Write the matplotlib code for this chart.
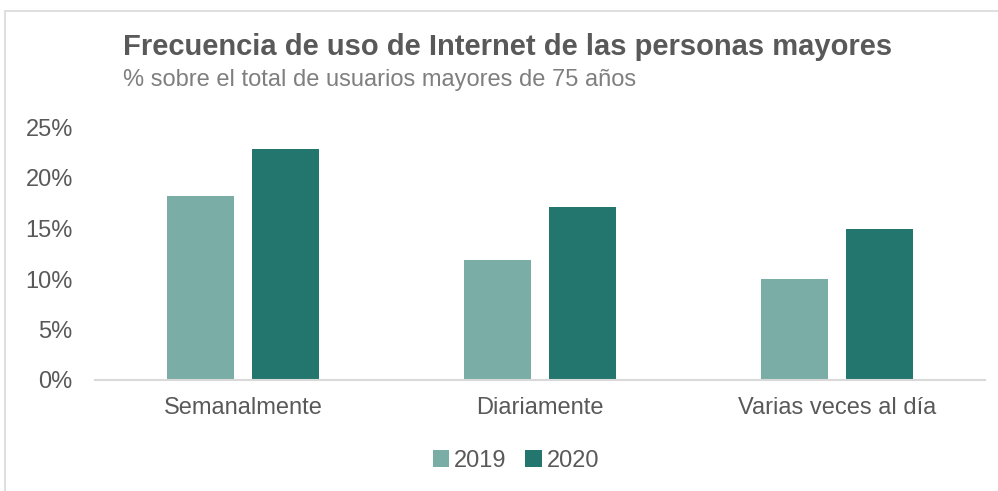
import matplotlib
matplotlib.use("Agg")
import matplotlib.pyplot as plt
import numpy as np
from matplotlib.patches import Rectangle

# === Data ===
categories = ["Semanalmente", "Diariamente", "Varias veces al día"]
years = ["2019", "2020"]
values_2019 = [18.2, 11.9, 10.0]
values_2020 = [22.9, 17.1, 15.0]
yticks = [0, 5, 10, 15, 20, 25]

color_2019 = "#7AADA6"
color_2020 = "#22766D"
text_color = "#595959"

plt.rcParams["font.family"] = ["Liberation Sans", "DejaVu Sans"]

fig = plt.figure(figsize=(9.98, 4.91), dpi=100)

# chart border
fig.patches.append(Rectangle((5 / 998, -0.1), 1.1, 1 - 11 / 491 + 0.1,
                             transform=fig.transFigure, fill=False,
                             edgecolor="#D9D9D9", linewidth=1.2))

ax = fig.add_axes([95 / 998, 1 - 380 / 491, (985 - 95) / 998, (380 - 127.5) / 491])

x = np.arange(len(categories))
w = 0.226
off = 0.143
ax.bar(x - off, values_2019, w, color=color_2019, label=years[0])
ax.bar(x + off, values_2020, w, color=color_2020, label=years[1])

ax.set_xlim(-0.5, len(categories) - 0.5)
ax.set_ylim(0, 25)
ax.set_yticks(yticks)
ax.set_yticklabels([f"{v}%" for v in yticks], fontsize=17, color=text_color)
ax.set_xticks(x)
ax.set_xticklabels(categories, fontsize=17, color=text_color)
ax.tick_params(axis="both", length=0)
ax.tick_params(axis="y", pad=16)
ax.tick_params(axis="x", pad=12)

for s in ["top", "right", "left"]:
    ax.spines[s].set_visible(False)
ax.spines["bottom"].set_color("#D9D9D9")
ax.spines["bottom"].set_linewidth(1.5)

# === Titles ===
fig.text(123 / 998, 1 - 47 / 491, "Frecuencia de uso de Internet de las personas mayores",
         fontsize=21, fontweight="bold", color=text_color, va="center", ha="left")
fig.text(123 / 998, 1 - 80 / 491, "% sobre el total de usuarios mayores de 75 años",
         fontsize=17, color="#7F7F7F", va="center", ha="left")

# === Legend ===
fig.legend(loc="center", bbox_to_anchor=(516 / 998, 1 - 461 / 491), ncol=2, frameon=False,
           fontsize=17, handlelength=0.7, handleheight=0.7, handletextpad=0.2,
           columnspacing=0.8, labelcolor=text_color)

fig.savefig("out.png", dpi=100)
